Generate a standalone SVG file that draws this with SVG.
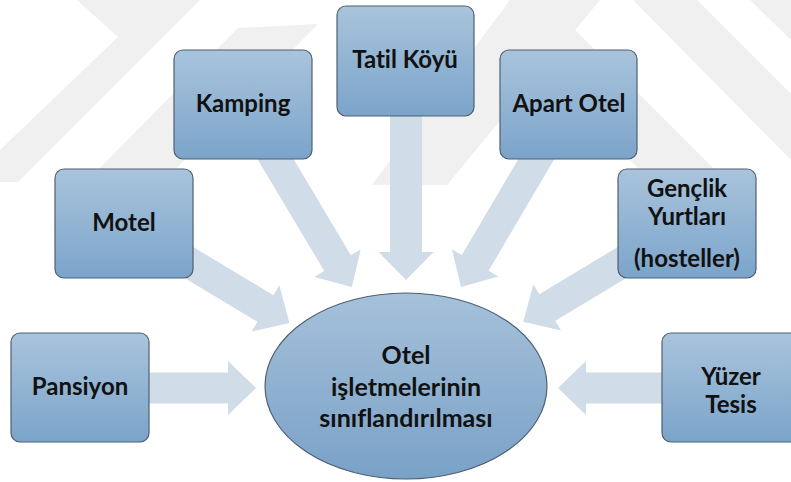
<svg xmlns="http://www.w3.org/2000/svg" width="791" height="482" viewBox="0 0 791 482">
  <defs>
    <linearGradient id="boxFill" x1="0" y1="0" x2="0" y2="1">
      <stop offset="0" stop-color="#a9c4dc"/>
      <stop offset="1" stop-color="#7ba4ca"/>
    </linearGradient>
    <linearGradient id="hubFill" x1="0" y1="0" x2="0" y2="1">
      <stop offset="0" stop-color="#a6c1da"/>
      <stop offset="1" stop-color="#79a1c7"/>
    </linearGradient>
    <style>
      .wm { fill: #f0f0f0; }
      .arrow { fill: #d0dce8; }
      .box { fill: url(#boxFill); stroke: #4f6070; stroke-width: 1.2; }
      .hub { fill: url(#hubFill); stroke: #4f6070; stroke-width: 1.2; }
      .label { font-family: "Lato", "Open Sans", "Liberation Sans", sans-serif; font-weight: 700; font-size: 24px; fill: #111; text-anchor: middle; font-variant-ligatures: none; }
      .hub-label { font-size: 25px; }
    </style>
  </defs>

  <rect width="791" height="482" fill="#ffffff"/>

  <!-- faint background watermark bands -->
  <g id="watermark">
    <polygon class="wm" points="77,0 118,37 0,150 0,182 18,182 200,0"/>
    <polygon class="wm" points="238,28 318,24 160,185 83,185"/>
    <polygon class="wm" points="510,0 600,0 447,185 372,185"/>
    <polygon class="wm" points="495,25 575,30 730,185 655,185"/>
    <polygon class="wm" points="633,0 697,0 791,94 791,160"/>
    <polygon class="wm" points="750,0 791,0 791,40"/>
  </g>

  <!-- block arrows: each drawn along +x from the node centre, tip on the hub -->
  <g id="connectors">
    <path class="arrow" transform="translate(80,388)" d="M0,-15.5 H148 V-27 L176,0 L148,27 V15.5 H0 Z"/>
    <path class="arrow" transform="translate(726,388) rotate(180)" d="M0,-15.5 H140 V-27 L168,0 L140,27 V15.5 H0 Z"/>
    <path class="arrow" transform="translate(406,61) rotate(90)" d="M0,-16 H191 V-27.5 L219,0 L191,27.5 V16 H0 Z"/>
    <path class="arrow" transform="translate(124,223.5) rotate(31)" d="M0,-15.5 H165 V-27 L193,0 L165,27 V15.5 H0 Z"/>
    <path class="arrow" transform="translate(687,223.5) rotate(149)" d="M0,-15.5 H163 V-27 L191,0 L163,27 V15.5 H0 Z"/>
    <path class="arrow" transform="translate(243,104.5) rotate(59.2)" d="M0,-15.5 H184.6 V-27 L212.6,0 L184.6,27 V15.5 H0 Z"/>
    <path class="arrow" transform="translate(568.5,104.5) rotate(120.5)" d="M0,-15.5 H183.8 V-27 L211.8,0 L183.8,27 V15.5 H0 Z"/>
  </g>

  <g id="hub">
    <ellipse class="hub" cx="406" cy="386" rx="141" ry="93"/>
    <text class="label hub-label" x="406" y="364">Otel</text>
    <text class="label hub-label" x="406" y="396">işletmelerinin</text>
    <text class="label hub-label" x="406" y="427">sınıflandırılması</text>
  </g>

  <g id="node-kamping">
    <rect class="box" x="174" y="50" width="138" height="109" rx="9"/>
    <text class="label" x="243" y="112">Kamping</text>
  </g>
  <g id="node-tatil-koyu">
    <rect class="box" x="337" y="6" width="137" height="110" rx="9"/>
    <text class="label" x="405" y="68">Tatil Köyü</text>
  </g>
  <g id="node-apart-otel">
    <rect class="box" x="500" y="50" width="137" height="109" rx="9"/>
    <text class="label" x="569" y="112">Apart Otel</text>
  </g>
  <g id="node-motel">
    <rect class="box" x="55" y="169" width="138" height="109" rx="9"/>
    <text class="label" x="124" y="231">Motel</text>
  </g>
  <g id="node-genclik">
    <rect class="box" x="618" y="169" width="138" height="109" rx="9"/>
    <text class="label" x="687" y="197">Gençlik</text>
    <text class="label" x="687" y="225">Yurtları</text>
    <text class="label" x="687" y="267">(hosteller)</text>
  </g>
  <g id="node-pansiyon">
    <rect class="box" x="11" y="333" width="138" height="109" rx="9"/>
    <text class="label" x="80" y="395">Pansiyon</text>
  </g>
  <g id="node-yuzer-tesis">
    <rect class="box" x="662" y="333" width="138" height="109" rx="9"/>
    <text class="label" x="731" y="385">Yüzer</text>
    <text class="label" x="731" y="413">Tesis</text>
  </g>
</svg>
